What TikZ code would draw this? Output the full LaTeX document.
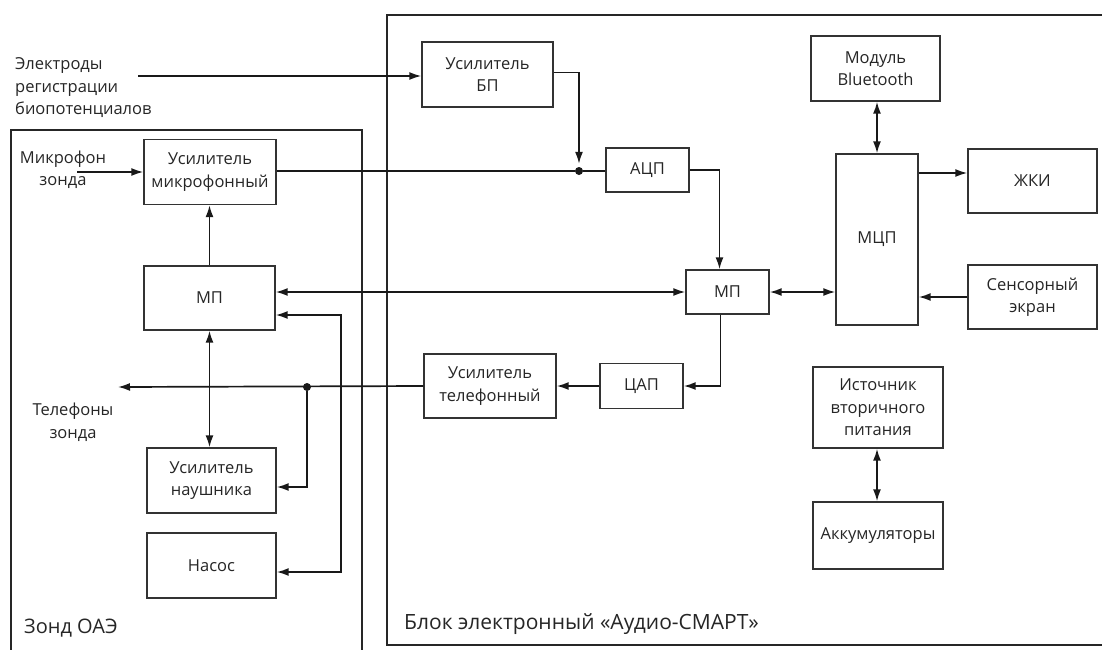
\documentclass[tikz,border=0pt]{standalone}
\usepackage{fontspec}
\setmainfont{Open Sans}
\usetikzlibrary{arrows.meta}
\newcommand\boxfnt{\fontsize{16.5}{22.5}\selectfont}
\newcommand\lblfnt{\fontsize{21}{24}\selectfont}
\newcommand\zlblfnt{\fontsize{20}{24}\selectfont}
\begin{document}
\begin{tikzpicture}[x=1pt,y=-1pt,
  blk/.style={draw=black!80, line width=1.4pt, inner sep=0pt, align=center, font=\boxfnt, text=black!85},
  frame/.style={draw=black!85, line width=2.2pt},
  conn/.style={line width=1.7pt, draw=black!90},
  arr/.style={-{Latex[length=12pt,width=8pt]}},
  arrs/.style={{Latex[length=12pt,width=8pt]}-{Latex[length=12pt,width=8pt]}},
  jdot/.style={circle, fill=black!90, inner sep=0pt, minimum size=8pt},
  txt/.style={inner sep=0pt, font=\boxfnt, text=black!85},
  lbl/.style={inner sep=0pt, text=black!85}]
\useasboundingbox (0,0) rectangle (1102,649);
\fill[white] (0,0) rectangle (1102,649);
% frames
\draw[frame] (11,130) rectangle (362,670);
\draw[frame] (387,15) rectangle (1120,645);
% left block
\node[blk, minimum width=132, minimum height=65] (umic) at (210,172) {Усилитель\\микрофонный};
\node[blk, minimum width=131, minimum height=64] (mpl) at (209.5,298) {МП};
\node[blk, minimum width=129, minimum height=65] (unau) at (211.5,480.5) {Усилитель\\наушника};
\node[blk, minimum width=129, minimum height=65] (nasos) at (211.5,565.5) {Насос};
% right block
\node[blk, minimum width=131, minimum height=65] (ubp) at (487.5,74.5) {Усилитель\\БП};
\node[blk, minimum width=83, minimum height=44] (adc) at (647.5,170) {АЦП};
\node[blk, minimum width=83, minimum height=44] (mpm) at (727.5,292) {МП};
\node[blk, minimum width=83, minimum height=45] (dac) at (641.5,386) {ЦАП};
\node[blk, minimum width=132, minimum height=64] (utel) at (490,386) {Усилитель\\телефонный};
\node[blk, minimum width=129, minimum height=65] (bt) at (875.5,68.5) {Модуль\\Bluetooth};
\node[blk, minimum width=82, minimum height=171] (mcp) at (877,239.5) {МЦП};
\node[blk, minimum width=129, minimum height=64] (lcd) at (1032.5,181) {ЖКИ};
\node[blk, minimum width=129, minimum height=64] (sens) at (1032.5,297) {Сенсорный\\экран};
\node[blk, minimum width=130, minimum height=81] (src) at (878,407.5) {Источник\\вторичного\\питания};
\node[blk, minimum width=130, minimum height=67] (bat) at (878,535.5) {Аккумуляторы};
% labels
\node[txt, anchor=west, align=left] (elec) at (15,88) {Электроды\\регистрации\\биопотенциалов};
\node[txt, align=center] (mic) at (63,170) {Микрофон\\зонда};
\node[txt, align=center] (tel) at (73,422) {Телефоны\\зонда};
\node[lbl, font=\zlblfnt, anchor=west] (zond) at (24,628) {Зонд ОАЭ};
\node[lbl, font=\lblfnt, anchor=west] (blok) at (404,624) {Блок электронный «Аудио-СМАРТ»};
% junctions and free ends
\node[jdot] (j1) at (579,171) {};
\node[jdot] (j2) at (307,387) {};
\coordinate (e1) at (138,76);
\coordinate (m1) at (77,172);
\coordinate (t1) at (118,387);
\coordinate (lcdin) at ([yshift=8pt]lcd.west);
% connectors
\draw[conn,arr] (e1) -- (e1 -| ubp.west);
\draw[conn,arr] (m1) -- (m1 -| umic.west);
\draw[conn] (umic.east |- j1) -- (j1) -- (j1 -| adc.west);
\draw[conn,arr,shorten >=3pt] ([yshift=2pt]ubp.east) -| (j1);
\draw[conn,arr] (adc.east) -| ([xshift=-8pt]mpm.north);
\draw[conn,arr] ([xshift=-7pt]mpm.south) |- (dac.east);
\draw[conn,arr] (dac.west) -- (utel.east);
\draw[conn,arr] (utel.west) -- (t1);
\draw[conn,arr] (j2) |- ([yshift=-6.5pt]unau.east);
\draw[conn,arrs] (mpl.east |- mpm.west) -- (mpm.west);
\draw[conn,arrs] (mpm.east) -- (mpm.east -| mcp.west);
\draw[conn,arrs] ([yshift=-17pt]mpl.east) -- ++(65,0) |- ([yshift=-6.5pt]nasos.east);
\draw[conn,arr] (mpl.north) -- (mpl.north |- umic.south);
\draw[conn,arrs] (mpl.south) -- (mpl.south |- unau.north);
\draw[conn,arrs] (mcp.north |- bt.south) -- (mcp.north);
\draw[conn,arr] (lcdin -| mcp.east) -- (lcdin);
\draw[conn,arr] (sens.west) -- (sens.west -| mcp.east);
\draw[conn,arrs] (src.south -| 877,0) -- (bat.north -| 877,0);
\end{tikzpicture}
\end{document}
